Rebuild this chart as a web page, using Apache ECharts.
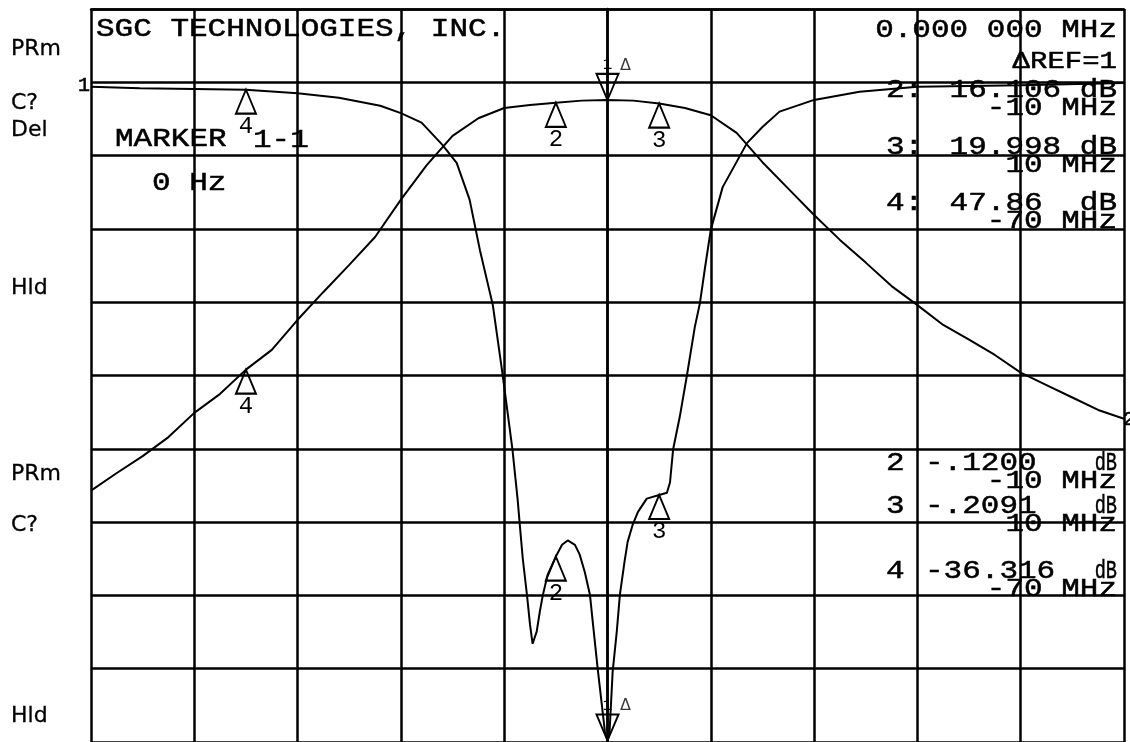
<!DOCTYPE html>
<html>
<head>
<meta charset="utf-8">
<title>SGC filter response</title>
<script src="https://cdn.jsdelivr.net/npm/echarts@6/dist/echarts.min.js"></script>
<style>
  html, body { margin: 0; padding: 0; background: #fff; }
  #myChart { width: 1130px; height: 742px; }
</style>
</head>
<body>
<div id="myChart"></div>
<script>
// offset from center frequency, MHz (20 MHz / div), screen units 10 per div
let s21Freq = [-100, -95, -90, -85, -80, -75, -70, -65, -60, -55, -50, -45, -40, -35, -30, -25, -20, -15, -10, -5, 0,
  5, 10, 15, 20, 25, 30, 35, 40, 45, 50, 55, 60, 65, 70, 75, 80, 85, 90, 95, 100]
let s21Db = [-65.7, -63.3, -61.0, -58.4, -55.1, -52.5, -49.2, -46.5, -42.4, -38.6, -34.9, -31.1, -26.0, -21.3, -17.3, -14.9, -13.5, -13.1, -12.8, -12.5, -12.4,
  -12.5, -12.9, -13.5, -14.5, -16.9, -20.9, -24.5, -28.1, -31.5, -34.6, -37.8, -40.4, -43.1, -45.1, -47.2, -49.6, -51.3, -53.0, -54.7, -55.9]

let s11Freq = [-100, -90.5, -80, -70, -60, -52, -44, -40, -36, -32, -29.2, -26.7, -24.7, -22.2, -20.3, -18.4, -17.4, -17, -16.4, -15.6,
  -15, -14.5, -13.7, -13.1, -12.5, -11.6, -10, -8.8, -7.7, -6.3, -5.4, -4.4, -3.4, -2.8, -1.9, -1.1, -0.5, 0,
  0.4, 1, 1.8, 2.4, 3.3, 3.9, 4.9, 5.9, 7.6, 10, 11.5, 12.1, 12.7, 14, 15.4, 16.9, 17.9, 18.9, 20, 22.3,
  27, 30, 33.3, 40, 48.8, 60, 80, 100]
let s11Db = [-10.6, -10.8, -10.9, -11.0, -11.5, -12.1, -13.2, -14.2, -15.5, -18.5, -21.0, -26.0, -32.9, -40.4, -49.9, -60.1, -66.9, -70.2, -75.0, -79.9,
  -84.0, -86.6, -84.9, -82.2, -79.9, -77.2, -74.7, -73.1, -72.5, -73.1, -74.4, -76.8, -79.9, -84.0, -90.0, -94.9, -98.6, -99.8,
  -98.6, -90.4, -84.9, -79.9, -75.4, -72.7, -70.3, -68.6, -66.8, -66.3, -66.0, -64.6, -60.1, -55.6, -49.9, -43.4, -40.1, -35.2, -30.1, -24.3,
  -18.3, -16.1, -14.0, -12.4, -11.3, -10.6, -10.4, -10.1]

// markers 2, 3, 4
let markerNames = ['2', '3', '4']
let markerFreq = [-10, 10, -70]
let s21MarkerDb = [-12.8, -12.9, -49.2]
let s11MarkerDb = [-74.7, -66.3, -11.0]
// marker 1 (delta reference)
let refFreq = 0
let s21RefDb = -12.4
let s11RefDb = -99.8

let upperReadout = [['2:', '16.106 dB', '-10 MHz'], ['3:', '19.998 dB', '10 MHz'], ['4:', '47.86  dB', '-70 MHz']]
let lowerReadout = [['2', '-.1200', '-10 MHz'], ['3', '-.2091', '10 MHz'], ['4', '-36.316', '-70 MHz']]

let myChart = echarts.init(document.getElementById('myChart'))

const MONO = 'Liberation Mono'
const SANS = 'DejaVu Sans'

function txt (s, x, y, opt) {
  opt = opt || {}
  return {
    type: 'text',
    x: x,
    y: y,
    scaleX: opt.sx || 1,
    scaleY: opt.sy || 0.82,
    silent: true,
    z: 100,
    style: {
      text: s,
      fontSize: opt.size || 31,
      fontFamily: opt.family || MONO,
      fill: '#000',
      stroke: '#000',
      lineWidth: opt.lw === undefined ? 0.6 : opt.lw,
      textAlign: opt.align || 'left',
      verticalAlign: 'middle'
    }
  }
}

let graphics = [
  txt('SGC TECHNOLOGIES, INC.', 96, 29),
  txt('0.000 000 MHz', 1117, 30, {align: 'right'}),
  txt('ΔREF=1', 1117, 62, {align: 'right', size: 29}),
  txt('MARKER', 115, 139),
  txt('1-1', 253, 140),
  txt('0 Hz', 152, 183),
  txt('1', 78, 86, {size: 20, sy: 1}),
  txt('2', 1123, 420, {size: 20, sy: 1})
]

let upperY = [90, 147, 203]
upperReadout.forEach(function (r, i) {
  graphics.push(txt(r[0], 886, upperY[i]))
  graphics.push(txt(r[1], 1117, upperY[i], {align: 'right'}))
  graphics.push(txt(r[2], 1117, upperY[i] + 18, {align: 'right'}))
})
let lowerY = [463, 506, 571]
lowerReadout.forEach(function (r, i) {
  graphics.push(txt(r[0], 886, lowerY[i]))
  graphics.push(txt(r[1], 925, lowerY[i]))
  graphics.push(txt('dB', 1117, lowerY[i], {align: 'right', sx: 0.6}))
  graphics.push(txt(r[2], 1117, lowerY[i] + 18, {align: 'right'}))
})

let sideLabels = [['PRm', 49], ['C?', 103], ['Del', 130], ['Hld', 288], ['PRm', 474], ['C?', 525], ['Hld', 716]]
sideLabels.forEach(function (l) {
  graphics.push(txt(l[0], 11, l[1], {family: SANS, size: 22, sy: 1, lw: 0.3}))
})

function pairs (xs, ys) {
  return xs.map(function (x, i) { return [x, ys[i]] })
}

function markerData (ys) {
  return markerFreq.map(function (f, i) {
    return {name: markerNames[i], value: [f, ys[i]]}
  })
}

let gridLine = {color: '#000', width: 2.5}
let traceStyle = {color: '#000', width: 2}
let markerStyle = {color: 'rgba(0,0,0,0)', borderColor: '#000', borderWidth: 2, opacity: 1}

let option = {
  animation: false,
  backgroundColor: '#fff',
  grid: {left: 91, top: 9, width: 1033, height: 734},
  xAxis: {
    type: 'value',
    min: -100,
    max: 100,
    interval: 20,
    axisLine: {show: true, lineStyle: gridLine},
    axisTick: {show: false},
    axisLabel: {show: false},
    splitLine: {show: true, lineStyle: gridLine}
  },
  yAxis: {
    type: 'value',
    min: -100,
    max: 0,
    interval: 10,
    axisLine: {show: true, lineStyle: gridLine},
    axisTick: {show: false},
    axisLabel: {show: false},
    splitLine: {show: true, lineStyle: gridLine}
  },
  graphic: graphics,
  series: [
    {
      name: 'S21',
      type: 'line',
      symbol: 'none',
      lineStyle: traceStyle,
      data: pairs(s21Freq, s21Db)
    },
    {
      name: 'S11',
      type: 'line',
      symbol: 'none',
      lineStyle: traceStyle,
      data: pairs(s11Freq, s11Db)
    },
    {
      name: 'markers',
      type: 'scatter',
      symbol: 'triangle',
      symbolSize: [20, 24],
      symbolOffset: [0, 12],
      itemStyle: markerStyle,
      label: {show: true, position: 'bottom', distance: 0, formatter: '{b}', fontFamily: MONO, fontSize: 24, color: '#000'},
      data: markerData(s21MarkerDb).concat(markerData(s11MarkerDb))
    },
    {
      name: 'ref marker',
      type: 'scatter',
      symbol: 'triangle',
      symbolRotate: 180,
      symbolSize: [22, 26],
      symbolOffset: [0, -13],
      itemStyle: markerStyle,
      label: {show: true, position: 'top', distance: 0, formatter: '1', fontFamily: MONO, fontSize: 16, color: '#000'},
      data: [[refFreq, s21RefDb], [refFreq, s11RefDb]]
    },
    {
      name: 'ref delta',
      type: 'scatter',
      symbol: 'circle',
      symbolSize: 1,
      itemStyle: {color: 'rgba(0,0,0,0)'},
      label: {show: true, position: [13, -42], formatter: 'Δ', fontFamily: SANS, fontSize: 16, color: '#000'},
      data: [[refFreq, s21RefDb], [refFreq, s11RefDb]]
    }
  ]
}
myChart.setOption(option, true)
</script>
</body>
</html>
